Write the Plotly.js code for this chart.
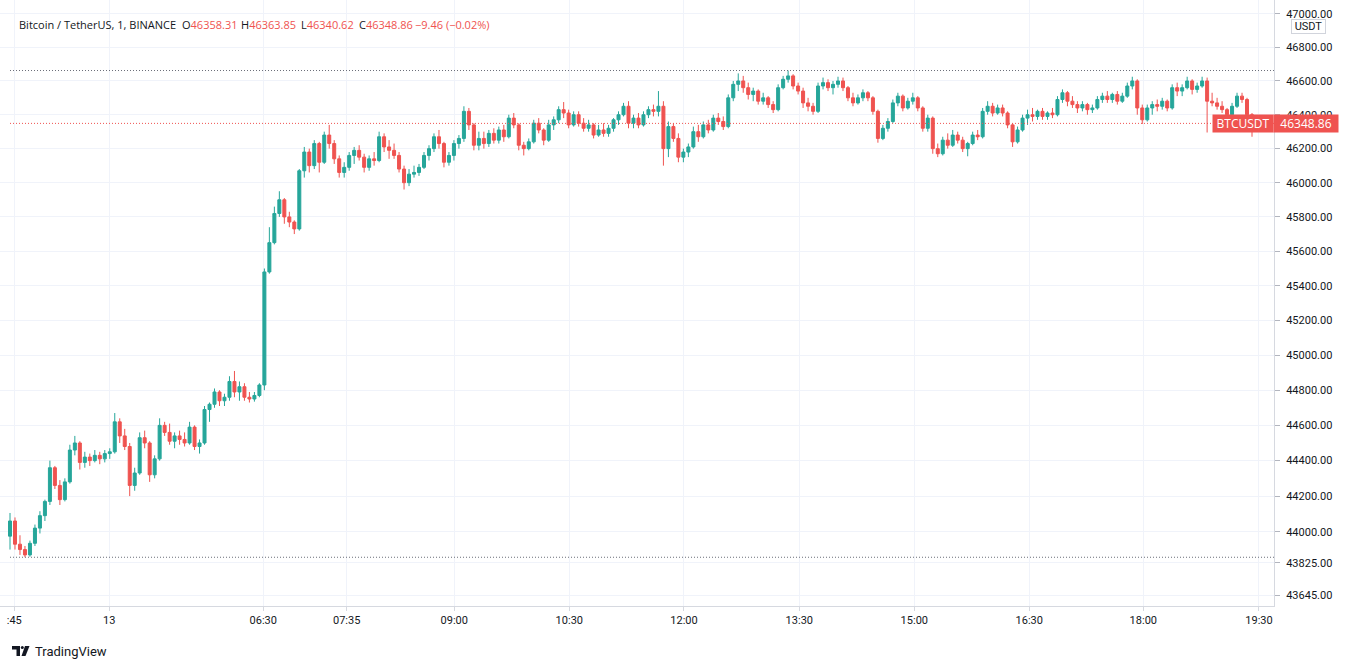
<!DOCTYPE html>
<html>
<head>
<meta charset="utf-8">
<script src="https://cdn.plot.ly/plotly-3.0.1.min.js"></script>
<style>
html,body{margin:0;padding:0;background:#ffffff;overflow:hidden;}
#chart{width:1354px;height:669px;}
</style>
</head>
<body>
<div id="chart"></div>
<script>
// ---- data (BTCUSDT, aggregated candles) ----
const openVals = [
43975,44060,43930,43900,43870,43935,44020,44090,44170,44360,
44260,44180,44280,44460,44500,44390,44420,44400,44430,44410,
44440,44450,44620,44540,44480,44260,44330,44530,44500,44320,
44410,44600,44560,44510,44540,44520,44500,44590,44480,44500,
44690,44720,44790,44740,44760,44850,44790,44820,44760,44750,
44770,44830,45480,45650,45820,45900,45800,45770,45730,46070,
46180,46100,46230,46120,46280,46230,46140,46060,46090,46160,
46190,46150,46090,46140,46130,46270,46210,46190,46160,46080,
46000,46050,46060,46090,46160,46200,46270,46230,46120,46160,
46230,46260,46420,46340,46220,46260,46230,46290,46250,46310,
46270,46380,46340,46220,46200,46240,46350,46310,46250,46340,
46370,46430,46410,46340,46400,46350,46320,46340,46280,46310,
46290,46320,46370,46400,46450,46350,46380,46340,46400,46430,
46420,46450,46200,46330,46260,46150,46180,46210,46300,46270,
46340,46310,46380,46360,46330,46500,46580,46600,46560,46520,
46540,46480,46500,46460,46430,46560,46610,46630,46570,46540,
46470,46450,46420,46570,46590,46560,46580,46600,46560,46500,
46470,46500,46530,46500,46420,46260,46320,46360,46470,46510,
46440,46480,46500,46440,46320,46380,46200,46170,46250,46220,
46280,46250,46200,46230,46280,46270,46420,46450,46410,46440,
46410,46340,46240,46310,46380,46400,46390,46420,46390,46410,
46400,46490,46530,46480,46460,46440,46460,46430,46440,46490,
46510,46490,46520,46480,46510,46570,46600,46440,46370,46440,
46460,46450,46480,46440,46560,46540,46560,46600,46550,46570,
46600,46480,46470,46450,46430,46400,46450,46510,46490,46400,
46358.31
];
const highVals = [
44105,44080,43980,43920,43950,44040,44115,44180,44400,44370,
44290,44300,44490,44540,44510,44450,44440,44460,44450,44460,
44470,44670,44640,44580,44500,44360,44560,44570,44510,44430,
44640,44620,44610,44560,44570,44560,44620,44600,44520,44710,
44730,44810,44800,44780,44880,44910,44850,44840,44790,44790,
44840,45500,45740,45860,45950,45910,45830,45780,46080,46210,
46200,46250,46240,46300,46340,46250,46160,46120,46180,46210,
46220,46170,46160,46180,46300,46290,46250,46230,46180,46100,
46080,46100,46110,46180,46220,46290,46310,46240,46180,46250,
46280,46450,46440,46350,46300,46300,46310,46320,46330,46340,
46400,46410,46350,46240,46260,46370,46380,46320,46370,46390,
46450,46475,46430,46420,46420,46380,46370,46350,46340,46350,
46340,46380,46420,46470,46480,46400,46410,46420,46450,46460,
46540,46480,46360,46350,46290,46200,46230,46330,46340,46360,
46370,46400,46410,46390,46520,46600,46645,46630,46590,46560,
46550,46530,46510,46480,46580,46630,46662,46640,46590,46560,
46500,46470,46590,46620,46610,46600,46625,46620,46570,46530,
46520,46550,46540,46510,46430,46340,46380,46490,46530,46520,
46500,46530,46510,46450,46400,46390,46230,46270,46290,46310,
46300,46270,46240,46300,46310,46440,46480,46470,46460,46460,
46420,46350,46330,46400,46430,46440,46430,46440,46420,46440,
46510,46550,46540,46510,46480,46480,46470,46460,46510,46530,
46540,46530,46540,46530,46590,46625,46610,46460,46460,46480,
46490,46500,46490,46580,46590,46580,46625,46610,46590,46625,
46620,46530,46500,46480,46440,46470,46530,46530,46500,46410,
46363.85
];
const lowVals = [
43900,43900,43870,43857,43860,43920,43990,44060,44150,44240,
44150,44170,44270,44430,44350,44360,44370,44390,44380,44390,
44410,44440,44500,44460,44200,44230,44320,44470,44280,44300,
44400,44540,44490,44470,44490,44480,44490,44460,44440,44490,
44620,44700,44710,44710,44740,44760,44740,44740,44730,44735,
44760,44800,45470,45640,45800,45760,45740,45700,45720,46030,
46060,46080,46060,46110,46200,46110,46030,46030,46070,46110,
46130,46060,46070,46100,46120,46180,46140,46140,46060,45960,
45980,46030,46040,46080,46130,46180,46200,46090,46100,46130,
46200,46240,46310,46190,46190,46200,46210,46230,46230,46240,
46260,46320,46190,46160,46190,46230,46290,46220,46240,46310,
46350,46380,46320,46330,46330,46300,46300,46260,46270,46270,
46270,46300,46340,46390,46320,46320,46320,46330,46380,46390,
46390,46100,46150,46240,46120,46120,46150,46200,46240,46260,
46290,46300,46340,46310,46320,46480,46540,46530,46490,46480,
46460,46460,46440,46410,46420,46550,46590,46550,46520,46440,
46420,46400,46410,46550,46540,46520,46560,46540,46480,46450,
46460,46480,46480,46400,46235,46250,46300,46350,46450,46420,
46430,46460,46420,46300,46300,46170,46150,46160,46200,46210,
46230,46180,46155,46220,46250,46260,46400,46390,46400,46390,
46320,46210,46230,46300,46340,46360,46370,46370,46370,46380,
46390,46470,46450,46440,46410,46420,46400,46410,46430,46470,
46470,46470,46460,46470,46500,46550,46400,46345,46360,46400,
46420,46430,46420,46430,46510,46510,46550,46520,46530,46560,
46295,46450,46430,46410,46380,46390,46440,46470,46380,46270,
46340.62
];
const closeVals = [
44060,43930,43900,43870,43935,44020,44090,44170,44360,44260,
44180,44280,44460,44500,44390,44420,44400,44430,44410,44440,
44450,44620,44540,44480,44260,44330,44530,44500,44320,44410,
44600,44560,44510,44540,44520,44500,44590,44480,44500,44690,
44720,44790,44740,44760,44850,44790,44820,44760,44750,44770,
44830,45480,45650,45820,45900,45800,45770,45730,46070,46180,
46100,46230,46120,46280,46230,46140,46060,46090,46160,46190,
46150,46090,46140,46130,46270,46210,46190,46160,46080,46000,
46050,46060,46090,46160,46200,46270,46230,46120,46160,46230,
46260,46420,46340,46220,46260,46230,46290,46250,46310,46270,
46380,46340,46220,46200,46240,46350,46310,46250,46340,46370,
46430,46410,46340,46400,46350,46320,46340,46280,46310,46290,
46320,46370,46400,46450,46350,46380,46340,46400,46430,46420,
46450,46200,46330,46260,46150,46180,46210,46300,46270,46340,
46310,46380,46360,46330,46500,46580,46600,46560,46520,46540,
46480,46500,46460,46430,46560,46610,46630,46570,46540,46470,
46450,46420,46570,46590,46560,46580,46600,46560,46500,46470,
46500,46530,46500,46420,46260,46320,46360,46470,46510,46440,
46480,46500,46440,46320,46380,46200,46170,46250,46220,46280,
46250,46200,46230,46280,46270,46420,46450,46410,46440,46410,
46340,46240,46310,46380,46400,46390,46420,46390,46410,46400,
46490,46530,46480,46460,46440,46460,46430,46440,46490,46510,
46490,46520,46480,46510,46570,46600,46440,46370,46440,46460,
46450,46480,46440,46560,46540,46560,46600,46550,46570,46600,
46480,46470,46450,46430,46400,46450,46510,46490,46400,46358.31,
46348.86
];
const timeTickLabels = [':45','13','06:30','07:35','09:00','10:30','12:00','13:30','15:00','16:30','18:00','19:30'];
const timeTickIndex  = [0.86, 19.91, 50.78, 67.50, 89.07, 112.13, 135.12, 158.24, 181.30, 204.35, 227.21, 250.40];
const priceTicks = [47000,46800,46600,46400,46200,46000,45800,45600,45400,45200,45000,44800,44600,44400,44200,44000,43825,43645];

const symbolName = 'Bitcoin / TetherUS, 1, BINANCE';
const lastCandle = {o:'46358.31', h:'46363.85', l:'46340.62', c:'46348.86', chg:'\u22129.46 (\u22120.02%)'};
const tickerName = 'BTCUSDT';
const quoteCcy = 'USDT';

// ---- styling ----
const UP = '#26a69a', DOWN = '#ef5350', TXT = '#131722';
const FONT = 'Roboto, "Open Sans", sans-serif';
const HFONT = '"Open Sans", Roboto, sans-serif';
const W = 1354, H = 669, PW = 1274, PH = 606;
const fx = px => px / PW;          // pixel -> paper x
const fy = py => 1 - py / PH;      // pixel -> paper y
const xRange = [-2.005, 253.41];

const idx = closeVals.map((_, i) => i);
const trace = {
  type: 'candlestick',
  x: idx, open: openVals, high: highVals, low: lowVals, close: closeVals,
  increasing: {line: {color: UP, width: 1}, fillcolor: UP},
  decreasing: {line: {color: DOWN, width: 1}, fillcolor: DOWN},
  whiskerwidth: 0, hoverinfo: 'skip', showlegend: false
};

const maxHigh = Math.max(...highVals);
const minLow = Math.min(...lowVals);
const lastClose = closeVals[closeVals.length - 1];

const shapes = [
  {type:'line', xref:'x', yref:'y', x0:0, x1:xRange[1], y0:maxHigh, y1:maxHigh, line:{color:'#6a6d78', width:1, dash:'1px,2px'}},
  {type:'line', xref:'x', yref:'y', x0:0, x1:xRange[1], y0:minLow, y1:minLow, line:{color:'#6a6d78', width:1, dash:'1px,2px'}},
  {type:'line', xref:'x', yref:'y', x0:0, x1:xRange[1], y0:lastClose, y1:lastClose, line:{color:DOWN, width:1, dash:'1px,2px'}},
  // TradingView logo
  {type:'path', xref:'paper', yref:'paper', fillcolor:TXT, line:{width:0},
   path:`M ${fx(12)} ${fy(646)} L ${fx(20)} ${fy(646)} L ${fx(20)} ${fy(656)} L ${fx(16.5)} ${fy(656)} L ${fx(16.5)} ${fy(649.5)} L ${fx(12)} ${fy(649.5)} Z`},
  {type:'circle', xref:'paper', yref:'paper', fillcolor:TXT, line:{width:0},
   x0:fx(20.8), x1:fx(23.8), y0:fy(646), y1:fy(649)},
  {type:'path', xref:'paper', yref:'paper', fillcolor:TXT, line:{width:0},
   path:`M ${fx(25)} ${fy(646)} L ${fx(29.5)} ${fy(646)} L ${fx(25.5)} ${fy(656)} L ${fx(21.5)} ${fy(656)} Z`}
];

const hdrY = fy(24);
const hdrFont = {family: HFONT, size: 11, color: TXT};
const red = s => `<span style="color:${DOWN}">${s}</span>`;
const annotations = [
  {text: symbolName, x: fx(17), y: hdrY},
  {text: 'O' + red(lastCandle.o), x: fx(180), y: hdrY},
  {text: 'H' + red(lastCandle.h), x: fx(239), y: hdrY},
  {text: 'L' + red(lastCandle.l), x: fx(299), y: hdrY},
  {text: 'C' + red(lastCandle.c), x: fx(357), y: hdrY},
  {text: red(lastCandle.chg), x: fx(413), y: hdrY},
].map(a => Object.assign({xref:'paper', yref:'paper', xanchor:'left', yanchor:'middle', showarrow:false, font:hdrFont}, a));

annotations.push(
  {xref:'paper', yref:'paper', x: fx(1243), y: fy(123.3), text: tickerName, showarrow:false,
   xanchor:'center', yanchor:'middle', bgcolor: DOWN, width: 60, height: 17, borderpad: 0,
   font: {family: HFONT, size: 12, color: '#ffffff'}},
  {xref:'paper', yref:'paper', x: fx(1306), y: fy(123.3), text: lastClose.toFixed(2), showarrow:false,
   xanchor:'center', yanchor:'middle', bgcolor: DOWN, width: 64, height: 17, borderpad: 0,
   font: {family: HFONT, size: 12, color: '#ffffff'}},
  {xref:'paper', yref:'paper', x: fx(1309), y: fy(26.8), text: quoteCcy, showarrow:false,
   xanchor:'center', yanchor:'middle', bgcolor: '#ffffff', bordercolor:'#d1d4dc', borderwidth:1,
   width: 33, height: 13, borderpad: 0, font: {family: FONT, size: 11, color: TXT}},
  {xref:'paper', yref:'paper', x: fx(33), y: fy(651), text: 'TradingView', showarrow:false,
   xanchor:'left', yanchor:'middle', font: {family: FONT, size: 13, color: TXT}}
);

const layout = {
  width: W, height: H,
  margin: {l: 0, r: W - PW, t: 0, b: H - PH, pad: 0},
  paper_bgcolor: '#ffffff', plot_bgcolor: '#ffffff',
  boxgap: 0.4, boxgroupgap: 0,
  font: {family: FONT, size: 11, color: TXT},
  showlegend: false,
  xaxis: {
    type: 'linear', range: xRange, rangeslider: {visible: false},
    tickmode: 'array', tickvals: timeTickIndex, ticktext: timeTickLabels,
    showgrid: true, gridcolor: '#f0f3fa', gridwidth: 1, zeroline: false,
    showline: true, linecolor: '#d6d9e0', linewidth: 1,
    ticks: 'outside', ticklen: 4, tickcolor: '#d6d9e0',
    tickfont: {family: FONT, size: 11, color: TXT}, fixedrange: true
  },
  yaxis: {
    type: 'log', side: 'right',
    range: [Math.log10(43585.5), Math.log10(47083)],
    tickmode: 'array', tickvals: priceTicks, ticktext: priceTicks.map(v => v.toFixed(2)),
    showgrid: true, gridcolor: '#f0f3fa', gridwidth: 1, zeroline: false,
    showline: true, linecolor: '#d6d9e0', linewidth: 1,
    ticks: 'outside', ticklen: 5, tickcolor: '#b2b5be', ticklabelstandoff: 4,
    tickfont: {family: FONT, size: 11, color: TXT}, fixedrange: true
  },
  shapes: shapes,
  annotations: annotations
};

Plotly.newPlot('chart', [trace], layout, {staticPlot: true, displayModeBar: false});
</script>
</body>
</html>
